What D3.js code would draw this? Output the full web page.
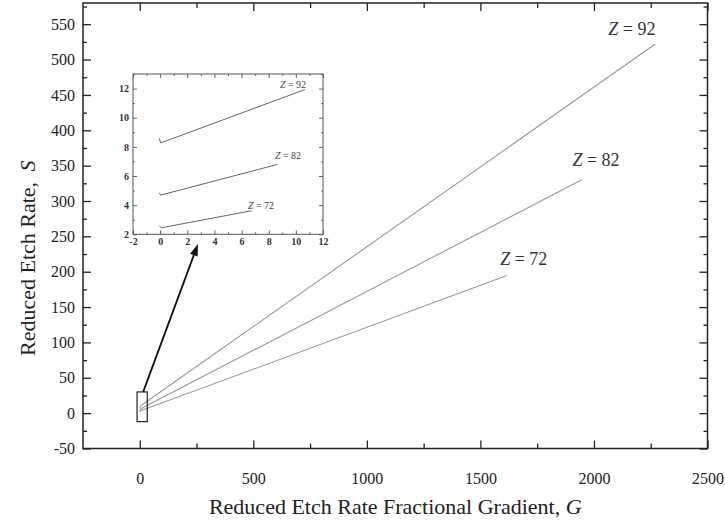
<!DOCTYPE html>
<html>
<head>
<meta charset="utf-8">
<script src="https://cdn.jsdelivr.net/npm/d3@7"></script>
<style>
  html, body { margin: 0; padding: 0; background: #fff; }
  svg { display: block; font-family: "Liberation Serif", "Times New Roman", serif; }
</style>
</head>
<body>
<svg id="chart" width="725" height="521"></svg>
<script>
// Reduced etch rate S against its fractional gradient G, one curve per Z.
const seriesNames = ["Z = 92", "Z = 82", "Z = 72"];
const zValues = ["92", "82", "72"];
const gZ92 = [-0.06, 0.04, 10.67, 2270];
const sZ92 = [8.58, 8.27, 11.93, 522];
const gZ82 = [-0.06, 0.04, 8.63, 1946];
const sZ82 = [4.85, 4.69, 6.79, 330];
const gZ72 = [-0.06, 0.11, 6.75, 1617];
const sZ72 = [2.57, 2.45, 3.62, 194.5];

// main-axis ticks
const xMajorTicks = [0, 500, 1000, 1500, 2000, 2500];
const xMinorTicks = [250, 750, 1250, 1750, 2250];
const yMajorTicks = [-50, 0, 50, 100, 150, 200, 250, 300, 350, 400, 450, 500, 550];
const yMinorTicks = [-25, 25, 75, 125, 175, 225, 275, 325, 375, 425, 475, 525, 575];

// inset ticks
const insetXMajor = [-2, 0, 2, 4, 6, 8, 10, 12];
const insetXMinor = [-1, 1, 3, 5, 7, 9, 11];
const insetYMajor = [2, 4, 6, 8, 10, 12];
const insetYMinor = [3, 5, 7, 9, 11, 13];

// curve label anchors (G, S) in main and inset coordinates
const mainLabelG = [2167, 2009, 1691];
const mainLabelS = [535, 349, 209];
const insetLabelG = [9.79, 9.42, 7.43];
const insetLabelS = [12.02, 7.16, 3.73];

// zoom marker around the origin and the arrow to the inset
const markerG = [-12, 33];
const markerS = [-12, 30];
const arrowTail = [15, 30];      // main (G, S)
const arrowTip = [2.79, 1.34];   // inset (G, S)

const series = [
  { name: seriesNames[0], z: zValues[0], g: gZ92, s: sZ92 },
  { name: seriesNames[1], z: zValues[1], g: gZ82, s: sZ82 },
  { name: seriesNames[2], z: zValues[2], g: gZ72, s: sZ72 }
].map((d, i) => ({ ...d, pts: d.g.map((g, k) => [g, d.s[k]]),
  lab: [mainLabelG[i], mainLabelS[i]], ilab: [insetLabelG[i], insetLabelS[i]] }));

const plain = d => String(d);
const svg = d3.select("#chart");

const L = 83, R = 707.5, T = 3, B = 448.5;
const x = d3.scaleLinear().domain([-250, 2500]).range([L, R]);
const y = d3.scaleLinear().domain([-50, 580]).range([B, T]);

svg.append("defs").append("clipPath").attr("id", "plotClip")
  .append("rect").attr("x", L).attr("y", T).attr("width", R - L).attr("height", B - T);

function styleAxis(g) {
  g.select(".domain").remove();
  g.selectAll(".tick line").attr("stroke", "#222").attr("stroke-width", 1.3);
  g.selectAll(".tick text").attr("fill", "#222").style("font-size", "16px")
    .style("font-family", "'Liberation Serif', serif");
}

// bottom + top
svg.append("g").attr("transform", `translate(0,${B})`)
  .call(d3.axisBottom(x).tickValues(xMajorTicks).tickFormat(plain)
    .tickSizeInner(-8).tickSizeOuter(0).tickPadding(24))
  .call(styleAxis);
svg.append("g").attr("transform", `translate(0,${B})`)
  .call(d3.axisBottom(x).tickValues(xMinorTicks).tickSizeInner(-5).tickSizeOuter(0).tickFormat(""))
  .call(styleAxis);
svg.append("g").attr("transform", `translate(0,${T})`)
  .call(d3.axisTop(x).tickValues(xMajorTicks).tickSizeInner(-8).tickSizeOuter(0).tickFormat(""))
  .call(styleAxis);
svg.append("g").attr("transform", `translate(0,${T})`)
  .call(d3.axisTop(x).tickValues(xMinorTicks).tickSizeInner(-5).tickSizeOuter(0).tickFormat(""))
  .call(styleAxis);
// left + right
svg.append("g").attr("transform", `translate(${L},0)`)
  .call(d3.axisLeft(y).tickValues(yMajorTicks).tickFormat(plain)
    .tickSizeInner(-8).tickSizeOuter(0).tickPadding(8))
  .call(styleAxis);
svg.append("g").attr("transform", `translate(${L},0)`)
  .call(d3.axisLeft(y).tickValues(yMinorTicks).tickSizeInner(-4).tickSizeOuter(0).tickFormat(""))
  .call(styleAxis);
svg.append("g").attr("transform", `translate(${R},0)`)
  .call(d3.axisRight(y).tickValues(yMajorTicks).tickSizeInner(-8).tickSizeOuter(0).tickFormat(""))
  .call(styleAxis);
svg.append("g").attr("transform", `translate(${R},0)`)
  .call(d3.axisRight(y).tickValues(yMinorTicks).tickSizeInner(-4).tickSizeOuter(0).tickFormat(""))
  .call(styleAxis);

// frame
svg.append("rect").attr("x", L).attr("y", T).attr("width", R - L).attr("height", B - T)
  .attr("fill", "none").attr("stroke", "#222").attr("stroke-width", 1.5);

// main curves
const line = d3.line().x(d => x(d[0])).y(d => y(d[1]));
svg.append("g").attr("clip-path", "url(#plotClip)")
  .selectAll("path").data(series).join("path")
  .attr("d", d => line(d.pts)).attr("fill", "none")
  .attr("stroke", "#999").attr("stroke-width", 1.1);

// curve labels
function zLabel(sel, size) {
  sel.each(function (d) {
    const t = d3.select(this);
    t.append("tspan").style("font-style", "italic").text("Z");
    t.append("tspan").text(" = " + d.z);
  }).style("font-size", size + "px");
}
svg.append("g").selectAll("text").data(series).join("text")
  .attr("x", d => x(d.lab[0])).attr("y", d => y(d.lab[1]))
  .attr("text-anchor", "middle").attr("fill", "#333")
  .call(zLabel, 18);

// zoom marker
svg.append("rect")
  .attr("x", x(markerG[0])).attr("y", y(markerS[1]))
  .attr("width", x(markerG[1]) - x(markerG[0])).attr("height", y(markerS[0]) - y(markerS[1]))
  .attr("fill", "none").attr("stroke", "#222").attr("stroke-width", 1.2);

// axis titles
svg.append("text").attr("x", (L + R) / 2).attr("y", 514).attr("text-anchor", "middle")
  .style("font-size", "22px").attr("fill", "#222")
  .call(t => {
    t.append("tspan").text("Reduced Etch Rate Fractional Gradient, ");
    t.append("tspan").style("font-style", "italic").text("G");
  });
svg.append("text").attr("transform", "translate(35,356) rotate(-90)")
  .attr("text-anchor", "start").style("font-size", "22px").attr("fill", "#222")
  .text("Reduced Etch Rate,");
svg.append("text").attr("transform", "translate(35,166) rotate(-90)")
  .attr("text-anchor", "middle").style("font-size", "22px").style("font-style", "italic")
  .attr("fill", "#222").text("S");

// ---- inset ----
const IL = 133, IR = 323, IT = 74, IB = 234.3;
const xi = d3.scaleLinear().domain([-2, 12]).range([IL, IR]);
const yi = d3.scaleLinear().domain([2, 13]).range([IB, IT]);
const inset = svg.append("g");
inset.append("rect").attr("x", IL).attr("y", IT).attr("width", IR - IL).attr("height", IB - IT)
  .attr("fill", "#fff");

function styleInset(g) {
  g.select(".domain").remove();
  g.selectAll(".tick line").attr("stroke", "#555").attr("stroke-width", 0.9);
  g.selectAll(".tick text").attr("fill", "#333").style("font-size", "10px")
    .style("font-weight", "bold").style("font-family", "'Liberation Serif', serif");
}
inset.append("g").attr("transform", `translate(0,${IB})`)
  .call(d3.axisBottom(xi).tickValues(insetXMajor).tickFormat(plain)
    .tickSizeInner(-4).tickSizeOuter(0).tickPadding(4))
  .call(styleInset);
inset.append("g").attr("transform", `translate(0,${IB})`)
  .call(d3.axisBottom(xi).tickValues(insetXMinor).tickSizeInner(-2).tickSizeOuter(0).tickFormat(""))
  .call(styleInset);
inset.append("g").attr("transform", `translate(0,${IT})`)
  .call(d3.axisTop(xi).tickValues(insetXMajor).tickSizeInner(-4).tickSizeOuter(0).tickFormat(""))
  .call(styleInset);
inset.append("g").attr("transform", `translate(0,${IT})`)
  .call(d3.axisTop(xi).tickValues(insetXMinor).tickSizeInner(-2).tickSizeOuter(0).tickFormat(""))
  .call(styleInset);
inset.append("g").attr("transform", `translate(${IL},0)`)
  .call(d3.axisLeft(yi).tickValues(insetYMajor).tickFormat(plain)
    .tickSizeInner(-4).tickSizeOuter(0).tickPadding(4))
  .call(styleInset);
inset.append("g").attr("transform", `translate(${IL},0)`)
  .call(d3.axisLeft(yi).tickValues(insetYMinor).tickSizeInner(-2).tickSizeOuter(0).tickFormat(""))
  .call(styleInset);
inset.append("g").attr("transform", `translate(${IR},0)`)
  .call(d3.axisRight(yi).tickValues(insetYMajor).tickSizeInner(-4).tickSizeOuter(0).tickFormat(""))
  .call(styleInset);
inset.append("g").attr("transform", `translate(${IR},0)`)
  .call(d3.axisRight(yi).tickValues(insetYMinor).tickSizeInner(-2).tickSizeOuter(0).tickFormat(""))
  .call(styleInset);
inset.append("rect").attr("x", IL).attr("y", IT).attr("width", IR - IL).attr("height", IB - IT)
  .attr("fill", "none").attr("stroke", "#555").attr("stroke-width", 1);

const iline = d3.line().x(d => xi(d[0])).y(d => yi(d[1]));
inset.selectAll("path.curve").data(series).join("path").attr("class", "curve")
  .attr("d", d => iline(d.pts.filter(p => p[0] <= 12))).attr("fill", "none")
  .attr("stroke", "#666").attr("stroke-width", 1);
inset.append("g").selectAll("text").data(series).join("text")
  .attr("x", d => xi(d.ilab[0])).attr("y", d => yi(d.ilab[1]))
  .attr("text-anchor", "middle").attr("fill", "#444")
  .call(zLabel, 10);

// arrow from the marker to the inset
const ax0 = x(arrowTail[0]), ay0 = y(arrowTail[1]);
const ax1 = xi(arrowTip[0]), ay1 = yi(arrowTip[1]);
const ang = Math.atan2(ay1 - ay0, ax1 - ax0);
const headLen = 12, headW = 4;
const bx = ax1 - headLen * Math.cos(ang), by = ay1 - headLen * Math.sin(ang);
svg.append("line").attr("x1", ax0).attr("y1", ay0).attr("x2", bx).attr("y2", by)
  .attr("stroke", "#111").attr("stroke-width", 1.8);
svg.append("path")
  .attr("d", `M${ax1},${ay1} L${bx - headW * Math.sin(ang)},${by + headW * Math.cos(ang)} L${bx + headW * Math.sin(ang)},${by - headW * Math.cos(ang)} Z`)
  .attr("fill", "#111");
</script>
</body>
</html>
